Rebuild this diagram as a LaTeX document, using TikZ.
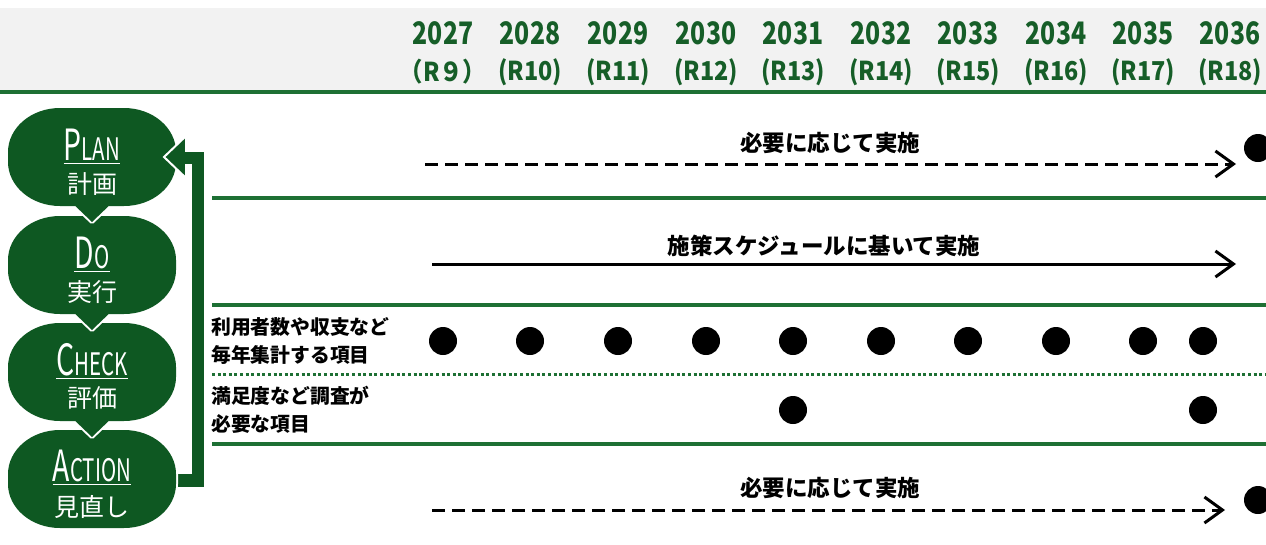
\documentclass[tikz,border=0pt]{standalone}
\usepackage{fontspec}
\setmainfont{Noto Sans CJK JP}
\usetikzlibrary{arrows.meta}
\definecolor{hdrgreen}{RGB}{22,94,40}
\definecolor{blobgreen}{RGB}{14,88,34}
\definecolor{linegreen}{RGB}{30,112,52}
\definecolor{hdrgrey}{RGB}{242,242,242}
% rounded blob: centre (#1,#2), half sizes 84 x 49
\newcommand\blobpath[2]{(#1-84,#2-5) .. controls (#1-84,#2-29) and (#1-61,#2-49) .. (#1-32,#2-49) -- (#1+32,#2-49) .. controls (#1+61,#2-49) and (#1+84,#2-29) .. (#1+84,#2-5) -- (#1+84,#2+5) .. controls (#1+84,#2+29) and (#1+61,#2+49) .. (#1+32,#2+49) -- (#1-32,#2+49) .. controls (#1-61,#2+49) and (#1-84,#2+29) .. (#1-84,#2+5) -- cycle}
\newcommand\tabpath[2]{(#1+24,#2+42) -- (#1,#2+65) -- (#1-24,#2+42) -- cycle}
\newcommand\pdcatitle[2]{\scalebox{0.66}[1]{\fontsize{43}{43}\selectfont #1\fontsize{31}{31}\selectfont #2}}
\begin{document}
\begin{tikzpicture}[x=1pt,y=-1pt,
  hdr/.style={text=hdrgreen,font=\bfseries,inner sep=0pt},
  rowline/.style={linegreen,line width=3.2pt},
  dotline/.style={linegreen,line width=3pt,dash pattern=on 3pt off 2.6pt},
  dot/.style={circle,fill=black,inner sep=0pt,minimum size=28pt},
  lbl/.style={font=\fontsize{22.5}{22.5}\selectfont\bfseries,inner sep=0pt},
  rowlbl/.style={font=\fontsize{19.8}{28}\selectfont\bfseries,align=left,inner sep=0pt,anchor=west},
  sched/.style={line width=3pt,-{Straight Barb[length=18pt,width=26pt,line width=3pt]}},
  dsched/.style={sched,dash pattern=on 13pt off 7pt},
  ptitle/.style={text=white,inner sep=0pt,anchor=base},
  pkanji/.style={text=white,inner sep=0pt,font=\fontsize{25}{25}\selectfont}]
\useasboundingbox (0,0) rectangle (1266,544);
\fill[white] (0,0) rectangle (1266,544);
% header
\fill[hdrgrey] (0,8) rectangle (1266,90);
\draw[rowline,line width=3.4pt] (0,92) -- (1266,92);
\foreach \x/\y/\r [count=\i] in {443/2027/（R９）,530/2028/(R10),618/2029/(R11),706/2030/(R12),793/2031/(R13),881/2032/(R14),968/2033/(R15),1056/2034/(R16),1143/2035/(R17),1230/2036/(R18)}{
  \node[hdr] (y\i) at (\x,33) {\scalebox{0.8}[1]{\fontsize{31}{31}\selectfont \y}};
  \node[hdr] (r\i) at (\x,72) {\scalebox{0.9}[1]{\fontsize{26}{26}\selectfont \r}};
}
% row separators
\draw[rowline] (212,198) -- (1266,198);
\draw[rowline] (212,305) -- (1266,305);
\draw[dotline] (212,374) -- (1266,374);
\draw[rowline] (212,444) -- (1266,444);
% row 1
\node[lbl] (l1) at (830,143) {必要に応じて実施};
\coordinate (a1s) at (425,164); \coordinate (a1e) at (1236,164);
\draw[dsched] (a1s) -- (a1e);
\node[dot] (d1) at (1258,148) {};
% row 2
\node[lbl] (l2) at (824,246) {施策スケジュールに基いて実施};
\coordinate (a2s) at (432,264); \coordinate (a2e) at (1236,264);
\draw[sched] (a2s) -- (a2e);
% row 3
\node[rowlbl] (l3) at (211,341) {利用者数や収支など\\毎年集計する項目};
\foreach \x [count=\i] in {443,530,618,706,793,881,968,1056,1143,1203}{
  \node[dot] (e\i) at (\x,341) {};
}
% row 4
\node[rowlbl] (l4) at (211,410) {満足度など調査が\\必要な項目};
\node[dot] (f1) at (793,410) {};
\node[dot] (f2) at (1203,410) {};
% row 5
\node[lbl] (l5) at (830,488) {必要に応じて実施};
\coordinate (a5s) at (432,510); \coordinate (a5e) at (1225,510);
\draw[dsched] (a5s) -- (a5e);
\node[dot] (d5) at (1258,500) {};
% feedback bar
\fill[blobgreen] (160,474) rectangle (204,487);
\fill[blobgreen] (192,152) rectangle (204,487);
\fill[blobgreen] (184,152) rectangle (204,164);
% PDCA blobs, bottom first
\path[draw=white,fill=white,line width=4pt,line join=round] \blobpath{92}{479};
\fill[blobgreen] \blobpath{92}{479};
\foreach \cy in {372,265,157}{
  \path[draw=white,fill=white,line width=4pt,line join=round] \blobpath{92}{\cy} \tabpath{92}{\cy};
  \fill[blobgreen] \blobpath{92}{\cy} \tabpath{92}{\cy};
}
% arrowhead
\coordinate (ahtip) at (164,157);
\filldraw[blobgreen,draw=white,line width=2pt,line join=miter] (186,136) -- (ahtip) -- (186,178) -- cycle;
\fill[blobgreen] (185,152) rectangle (194,164);
% titles
\node[ptitle] (tp) at (92,160) {\pdcatitle{P}{LAN}};
\node[ptitle] (td) at (92,268) {\pdcatitle{D}{O}};
\node[ptitle] (tc) at (92,375) {\pdcatitle{C}{HECK}};
\node[ptitle] (ta) at (92,481) {\pdcatitle{A}{CTION}};
\foreach \n in {tp,td,tc,ta}{
  \draw[white,line width=1.8pt] ([yshift=-3.5pt]\n.base west) -- ([yshift=-3.5pt]\n.base east);
}
\node[pkanji] (kp) at (92,184) {計画};
\node[pkanji] (kd) at (92,292) {実行};
\node[pkanji] (kc) at (92,398) {評価};
\node[pkanji] (ka) at (92,507) {見直し};
\end{tikzpicture}
\end{document}
